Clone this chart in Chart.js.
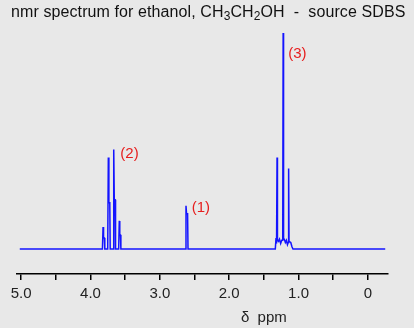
<!DOCTYPE html>
<html>
<head>
<meta charset="utf-8">
<script src="https://cdn.jsdelivr.net/npm/chart.js@4"></script>
<style>
  html, body { margin: 0; padding: 0; background: #e8e8e8; }
  #wrap { width: 414px; height: 328px; }
</style>
</head>
<body>
<div id="wrap"><canvas id="nmr"></canvas></div>
<script>
// chemical shift (ppm) of each point on the trace, high to low
const shiftPpm = [
    5.02,
    // CH2 quartet (2)
    3.828, 3.819, 3.812, 3.800, 3.794,
    3.752, 3.743, 3.735, 3.722, 3.716,
    3.674, 3.665, 3.657, 3.645, 3.639,
    3.594, 3.585, 3.578, 3.568, 3.562,
    // OH singlet (1)
    2.632, 2.623, 2.615, 2.600, 2.594,
    // CH3 triplet (3)
    1.335, 1.325, 1.318, 1.316, 1.310, 1.304, 1.290, 1.275, 1.258, 1.242,
    1.228, 1.222, 1.216, 1.205, 1.190, 1.175, 1.160, 1.149, 1.143, 1.137,
    1.128, 1.112, 1.095, 1.080,
    -0.25
];

// signal intensity at each of those points (tallest line = 100)
const intensity = [
    0,
    0, 10.2, 5.1, 5.1, 0,
    0, 42.3, 21.4, 21.4, 0,
    0, 46.0, 22.8, 22.8, 0,
    0, 13.0, 6.5, 6.5, 0,
    0, 20.0, 16.3, 16.3, 0,
    0, 5.0, 2.5, 3.0, 42.3, 4.0, 3.5, 4.5, 2.5, 4.0,
    4.0, 100, 4.5, 4.5, 3.0, 4.0, 2.0, 3.0, 37.2, 3.5,
    3.5, 3.0, 1.0, 0,
    0
];

// axis ticks every 0.5 ppm, labelled at whole numbers
const tickValues = [5.0, 4.5, 4.0, 3.5, 3.0, 2.5, 2.0, 1.5, 1.0, 0.5, 0];
const tickLabels = ['5.0', '', '4.0', '', '3.0', '', '2.0', '', '1.0', '', '0'];

// group labels and where they sit (ppm, intensity)
const peakNames = ['(2)', '(1)', '(3)'];
const peakNameAt = [[3.57, 44], [2.54, 19], [1.15, 90.5]];

const FONT = '"Liberation Sans", Arial, sans-serif';

// draws the title with real subscripts, the peak names and the axis name
const textPlugin = {
    id: 'nmrText',
    afterDraw(chart) {
        const ctx = chart.ctx;
        const xs = chart.scales.x;
        const ys = chart.scales.y;
        ctx.save();

        // title
        const runs = [
            ['nmr spectrum for ethanol, CH', false],
            ['3', true],
            ['CH', false],
            ['2', true],
            ['OH  -  source SDBS', false]
        ];
        let x = 11;
        ctx.fillStyle = '#111';
        ctx.textBaseline = 'alphabetic';
        ctx.textAlign = 'left';
        ctx.letterSpacing = '0.1px';
        runs.forEach(([txt, sub]) => {
            ctx.font = (sub ? '12px ' : '16px ') + FONT;
            ctx.fillText(txt, x, sub ? 20 : 17);
            x += ctx.measureText(txt).width;
        });
        ctx.letterSpacing = '0px';

        // peak names
        ctx.font = '15px ' + FONT;
        ctx.fillStyle = '#e61e1e';
        ctx.textBaseline = 'middle';
        peakNames.forEach((name, i) => {
            const [p, h] = peakNameAt[i];
            ctx.fillText(name, xs.getPixelForValue(p), ys.getPixelForValue(h));
        });

        // axis name
        ctx.fillStyle = '#222';
        ctx.textAlign = 'center';
        ctx.fillText('\u03b4  ppm', xs.getPixelForValue(1.5), 318);
        ctx.restore();
    }
};

const ctx = document.getElementById('nmr');

new Chart(ctx, {
    type: 'line',
    data: {
        datasets: [{
            data: shiftPpm.map((p, i) => ({ x: p, y: intensity[i] })),
            borderColor: '#1414ff',
            borderWidth: 1.5,
            pointRadius: 0,
            tension: 0,
            fill: false
        }]
    },
    options: {
        responsive: true,
        maintainAspectRatio: false,
        animation: false,
        devicePixelRatio: 1,
        layout: {
            padding: { left: 17, right: 26, top: 22, bottom: 20 }
        },
        plugins: {
            legend: { display: false },
            title: { display: false },
            tooltip: { enabled: false }
        },
        scales: {
            x: {
                type: 'linear',
                reverse: true,
                min: -0.29,
                max: 5.06,
                afterBuildTicks(scale) {
                    scale.ticks = tickValues.map(v => ({ value: v }));
                },
                ticks: {
                    autoSkip: false,
                    maxRotation: 0,
                    padding: 5,
                    color: '#222',
                    font: { family: FONT, size: 15 },
                    callback: (v) => {
                        const i = tickValues.indexOf(v);
                        return i >= 0 ? tickLabels[i] : '';
                    }
                },
                grid: {
                    drawOnChartArea: false,
                    drawTicks: true,
                    tickLength: 6,
                    color: '#000',
                    lineWidth: 1.5
                },
                border: { display: true, color: '#000', width: 1.5 }
            },
            y: {
                display: false,
                min: -11.6,
                max: 105.1
            }
        }
    },
    plugins: [textPlugin]
});
</script>
</body>
</html>
